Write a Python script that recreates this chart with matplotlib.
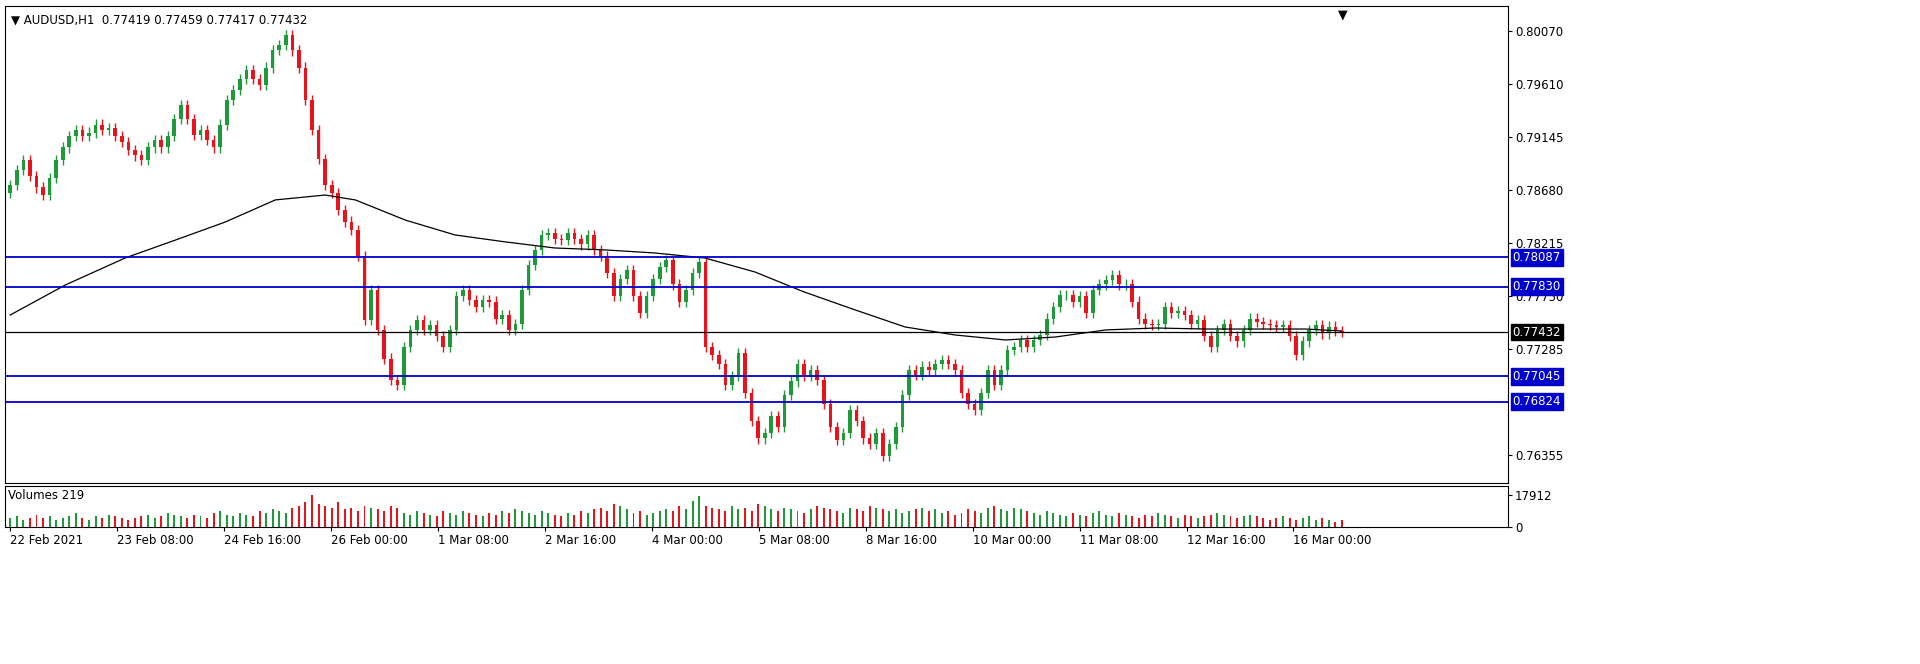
import matplotlib
matplotlib.use("Agg")
import matplotlib.pyplot as plt
from matplotlib.transforms import blended_transform_factory as btf

# closes in 1e-5 price units, 2-hour bars
closes = [78721,78850,78940,78800,78700,78633,78780,78940,79050,79150,
          79203,79150,79180,79250,79203,79220,79150,79100,79028,78980,
          78940,79050,79115,79050,79150,79300,79422,79300,79159,79200,
          79115,79050,79250,79466,79550,79650,79728,79650,79597,79750,
          79904,79950,80035,79900,79750,79466,79200,78950,78721,78650,
          78502,78400,78327,78100,77538,77800,77450,77200,77013,76969,
          77300,77450,77538,77450,77494,77400,77300,77450,77750,77800,
          77714,77650,77714,77700,77550,77582,77451,77500,77800,78020,
          78150,78283,78300,78250,78239,78300,78250,78200,78283,78150,
          78100,77950,77750,77900,77976,77750,77600,77750,77900,78000,
          78064,77850,77700,77800,77950,78050,77300,77232,77150,76969,
          77050,77250,76900,76650,76500,76550,76700,76600,76881,77000,
          77150,77050,77100,77013,76800,76600,76487,76550,76750,76650,
          76500,76450,76550,76350,76450,76600,76881,77100,77057,77130,
          77100,77150,77188,77150,77100,76900,76800,76750,76900,77100,
          76969,77100,77276,77300,77363,77300,77363,77407,77550,77650,
          77757,77757,77700,77750,77600,77800,77850,77889,77933,77850,
          77850,77700,77550,77500,77494,77500,77650,77600,77620,77582,
          77500,77538,77400,77300,77450,77500,77400,77350,77450,77550,
          77520,77500,77494,77480,77494,77400,77232,77350,77451,77494,
          77420,77480,77440,77432]
first_open = 78650
volumes = [5,6,4,5,7,5,6,4,5,6,
           8,5,4,6,5,7,6,5,4,5,
           6,7,5,6,8,7,6,5,7,6,
           5,8,9,7,6,8,7,6,9,8,
           10,9,8,11,12,14,17.9,13,12,11,
           14,10,11,9,12,11,10,9,12,11,
           8,7,9,8,7,6,9,8,7,9,
           8,7,6,8,7,9,8,10,9,8,
           7,9,8,7,6,8,7,9,8,10,
           11,9,13,12,10,8,9,7,8,9,
           10,9,12,10,15,17.5,12,11,10,9,
           12,10,11,9,13,12,10,9,11,10,
           9,8,10,12,11,10,9,8,11,10,
           9,12,11,10,9,10,8,9,10,11,
           9,10,8,9,7,8,10,9,8,11,
           12,10,9,11,10,9,8,7,9,8,
           7,6,8,7,6,8,9,7,6,8,
           7,6,5,7,6,8,7,6,5,7,
           6,5,6,7,8,7,6,5,6,7,
           6,5,4,5,6,5,4,5,6,4,
           5,4,3,4]
ma_x = [0,8.4,17.5,25.2,32.8,40.4,48,52.6,60.2,67.8,75.5,83,90.7,98.3,105.9,
        113.5,121,128.8,136.4,144,151.7,159.3,167,174.6,182.2,189.8,197.4,202.9]
ma_y = [77582,77845,78081,78239,78397,78590,78633,78590,78414,78283,78222,78169,
        78152,78125,78081,77959,77784,77626,77477,77407,77363,77389,77451,77468,
        77459,77459,77459,77442]
levels_blue = [0.78087,0.77830,0.77045,0.76824]
level_cur = 0.77432
price_ticks = [0.80070,0.79610,0.79145,0.78680,0.78215,0.77750,0.77285,0.76355]
time_labels = ["22 Feb 2021","23 Feb 08:00","24 Feb 16:00","26 Feb 00:00","1 Mar 08:00",
               "2 Mar 16:00","4 Mar 00:00","5 Mar 08:00","8 Mar 16:00","10 Mar 00:00",
               "11 Mar 08:00","12 Mar 16:00","16 Mar 00:00"]

GREEN, RED = '#1f9a3a', '#e8141c'
fig = plt.figure(figsize=(19.2, 6.64), dpi=100)
ax = fig.add_axes([5/1920, 1-483/664, 1503/1920, 477/664])
axv = fig.add_axes([5/1920, 1-527/664, 1503/1920, 41/664])
n = len(closes)
opens = [first_open] + closes[:-1]
wick = 45
for i in range(n):
    o, c = opens[i]/1e5, closes[i]/1e5
    col = GREEN if c >= o else RED
    hi, lo = max(o, c) + wick/1e5, min(o, c) - wick/1e5
    ax.vlines(i, lo, hi, color=col, lw=1)
    ax.bar(i, max(abs(c-o), 0.00003), bottom=min(o, c), width=0.55, color=col, lw=0)
    axv.bar(i, volumes[i]*1000, width=0.3, color=col, lw=0)
ax.plot(ma_x, [v/1e5 for v in ma_y], color='black', lw=0.9)
for lv in levels_blue:
    ax.axhline(lv, color='#0000cc', lw=1.3)
ax.axhline(level_cur, color='black', lw=0.9)

xmin, xmax = -0.8, 228.3
ax.set_xlim(xmin, xmax); axv.set_xlim(xmin, xmax)
ax.set_ylim(0.76110, 0.80289)
axv.set_ylim(0, 17912*1.3)
for a in (ax, axv):
    a.yaxis.tick_right()
    for s in a.spines.values():
        s.set_linewidth(0.8)
    a.tick_params(axis='y', labelsize=8.5, length=3, pad=2)
ax.set_xticks([])
ax.set_yticks(price_ticks)
ax.set_yticklabels([f"{t:.5f}" for t in price_ticks])
axv.set_yticks([0, 17912]); axv.set_yticklabels(["0", "17912"])
axv.set_xticks([k*16.3 for k in range(len(time_labels))])
axv.set_xticklabels(time_labels, fontsize=8.5)
axv.tick_params(axis='x', length=3, pad=2)
for lbl in axv.get_xticklabels():
    lbl.set_horizontalalignment('left')

tr = btf(ax.transAxes, ax.transData)
for lv in levels_blue:
    ax.text(1.003, lv, f"{lv:.5f}", transform=tr, fontsize=8.5, color='white', va='center',
            ha='left', bbox=dict(boxstyle='square,pad=0.15', fc='#0000cc', ec='#0000cc'), clip_on=False)
ax.text(1.003, level_cur, f"{level_cur:.5f}", transform=tr, fontsize=8.5, color='white', va='center',
        ha='left', bbox=dict(boxstyle='square,pad=0.15', fc='black', ec='black'), clip_on=False)
ax.text(0.004, 0.985, "▼ AUDUSD,H1  0.77419 0.77459 0.77417 0.77432", transform=ax.transAxes,
        fontsize=8.5, va='top')
axv.text(0.002, 0.93, "Volumes 219", transform=axv.transAxes, fontsize=8.5, va='top')
ax.text(0.89, 0.995, "▼", transform=ax.transAxes, fontsize=9, va='top', ha='center')
fig.savefig("out.png", dpi=100)
